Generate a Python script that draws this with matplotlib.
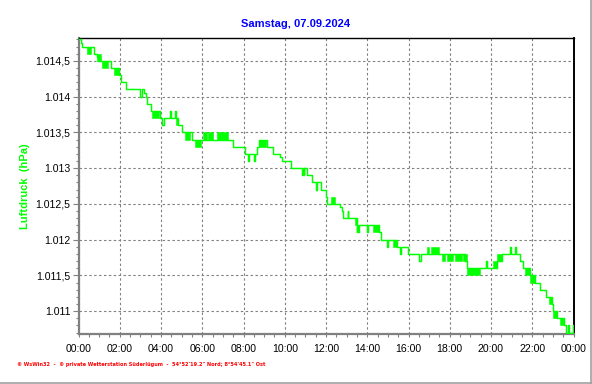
import matplotlib
matplotlib.use("Agg")
import matplotlib.pyplot as plt
import matplotlib.ticker as mticker
from matplotlib.lines import Line2D

# Luftdruck 07.09.2024, step series (hours, hPa)
hours = [0.00, 0.10, 0.18, 0.77, 0.90, 0.95, 1.58, 1.98, 2.06, 2.30,
         2.98, 3.06, 3.19, 3.27, 3.31, 3.52, 3.95, 4.05, 4.15, 4.44,
         4.48, 4.69, 4.72, 4.84, 5.00, 5.49, 7.51, 8.07, 8.23, 8.27,
         8.51, 8.55, 8.64, 8.77, 9.12, 9.45, 9.77, 9.85, 10.29, 10.86,
         10.89, 10.92, 10.95, 11.06, 11.31, 11.52, 11.56, 11.76, 12.00, 12.06,
         12.68, 12.76, 12.84, 13.05, 13.09, 13.49, 13.52, 13.57, 13.60, 14.00,
         14.04, 14.59, 14.65, 14.97, 15.01, 15.46, 15.60, 15.64, 15.99, 16.52,
         16.59, 18.74, 18.82, 19.76, 19.80, 20.28, 20.52, 20.92, 20.96, 21.18,
         21.22, 21.41, 21.54, 21.89, 22.13, 22.38, 22.67, 22.94, 22.99, 23.22,
         23.52, 23.64, 23.75, 23.79, 23.97, 24.00]
druck = [1014.8, 1014.75, 1014.7, 1014.6, 1014.55, 1014.5, 1014.4, 1014.3, 1014.2, 1014.1,
         1014.0, 1014.1, 1014.05, 1014.0, 1013.9, 1013.8, 1013.7, 1013.6, 1013.7, 1013.8,
         1013.7, 1013.8, 1013.7, 1013.6, 1013.5, 1013.4, 1013.3, 1013.2, 1013.1, 1013.2,
         1013.1, 1013.2, 1013.3, 1013.4, 1013.3, 1013.2, 1013.15, 1013.1, 1013.0, 1012.9,
         1013.0, 1012.9, 1013.0, 1012.9, 1012.8, 1012.7, 1012.8, 1012.7, 1012.6, 1012.5,
         1012.45, 1012.4, 1012.3, 1012.4, 1012.3, 1012.1, 1012.2, 1012.1, 1012.2, 1012.1,
         1012.2, 1012.1, 1012.0, 1011.9, 1012.0, 1011.9, 1011.8, 1011.9, 1011.8, 1011.7,
         1011.8, 1011.7, 1011.6, 1011.7, 1011.6, 1011.7, 1011.8, 1011.9, 1011.8, 1011.9,
         1011.8, 1011.7, 1011.6, 1011.5, 1011.4, 1011.3, 1011.2, 1011.1, 1011.0, 1010.9,
         1010.8, 1010.7, 1010.8, 1010.7, 1010.8, 1010.8]

# short periods where the reading jumps back and forth between two values
flicker_start = [0.42, 0.92, 1.14, 1.74, 3.56, 4.73, 5.16, 5.65, 6.05, 6.29,
                 6.70, 8.77, 12.23, 13.41, 14.29, 15.26, 16.90, 17.10, 17.61, 17.85,
                 18.25, 18.65, 18.82, 20.11, 20.28, 21.65, 21.89, 22.83, 22.99, 23.35]
flicker_end = [0.61, 1.09, 1.42, 1.98, 3.92, 4.84, 5.41, 5.92, 6.21, 6.53,
               7.26, 9.10, 12.44, 13.49, 14.59, 15.43, 17.00, 17.50, 17.77, 18.17,
               18.57, 18.82, 19.47, 20.28, 20.52, 21.89, 22.13, 22.94, 23.18, 23.52]
flicker_low = [1014.6, 1014.5, 1014.4, 1014.3, 1013.7, 1013.6, 1013.4, 1013.3, 1013.4, 1013.4,
               1013.4, 1013.3, 1012.5, 1012.2, 1012.1, 1011.9, 1011.8, 1011.8, 1011.7, 1011.7,
               1011.7, 1011.7, 1011.5, 1011.6, 1011.7, 1011.5, 1011.4, 1011.1, 1010.9, 1010.8]
flicker_high = [1014.7, 1014.6, 1014.5, 1014.4, 1013.8, 1013.7, 1013.5, 1013.4, 1013.5, 1013.5,
                1013.5, 1013.4, 1012.6, 1012.3, 1012.2, 1012.0, 1011.9, 1011.9, 1011.8, 1011.8,
                1011.8, 1011.8, 1011.6, 1011.7, 1011.8, 1011.6, 1011.5, 1011.2, 1011.0, 1010.9]

x_ticks = list(range(0, 25, 2))
x_labels = ["00:00", "02:00", "04:00", "06:00", "08:00", "10:00", "12:00",
            "14:00", "16:00", "18:00", "20:00", "22:00", "00:00"]
y_ticks = [1011.0, 1011.5, 1012.0, 1012.5, 1013.0, 1013.5, 1014.0, 1014.5]

title = "Samstag, 07.09.2024"
ylabel = "Luftdruck  (hPa)"
footer = "\u00a9 WsWin32  -  \u00a9 private Wetterstation S\u00fcderl\u00fcgum  -  54\u00b052'19.2\" Nord; 8\u00b054'45.1\" Ost"

plt.rcParams['font.family'] = ['Liberation Sans', 'DejaVu Sans']

green = '#00ff00'
grey = '#808080'


def german(v, pos):
    s = "{:.1f}".format(v)
    whole, frac = s.split(".")
    whole = whole[:-3] + "." + whole[-3:]
    if frac == "0":
        return whole
    return whole + "," + frac


fig = plt.figure(figsize=(5.92, 3.84), dpi=100)
ax = fig.add_axes([78.5 / 592, 1 - 334 / 384, 495 / 592, 296 / 384])

ax.plot(hours, druck, drawstyle='steps-post', color=green, lw=1.05, zorder=3)
widths = [e - s for s, e in zip(flicker_start, flicker_end)]
heights = [h - l for l, h in zip(flicker_low, flicker_high)]
ax.bar(flicker_start, heights, width=widths, bottom=flicker_low, align='edge',
       color=green, edgecolor=green, linewidth=0.4, zorder=3)

ax.set_xlim(0, 24)
ax.set_ylim(1010.68, 1014.82)
ax.set_xticks(x_ticks)
ax.set_xticklabels(x_labels)
ax.xaxis.set_minor_locator(mticker.MultipleLocator(0.5))
ax.set_yticks(y_ticks)
ax.yaxis.set_major_formatter(mticker.FuncFormatter(german))
ax.yaxis.set_minor_locator(mticker.MultipleLocator(0.1))

ax.grid(True, which='major', color=grey, linestyle=(0, (2.2, 2.2)), linewidth=0.8)
ax.set_axisbelow(True)

ax.tick_params(axis='both', which='both', direction='out', color=grey, width=0.8,
               labelsize=7.6, labelcolor='black')
ax.tick_params(axis='y', which='major', length=4.3, pad=1.5)
ax.tick_params(axis='y', which='minor', length=2.2)
ax.tick_params(axis='x', which='major', length=2.4, pad=5)
ax.tick_params(axis='x', which='minor', length=2.4)

ax.spines['left'].set_color(grey)
ax.spines['left'].set_linewidth(1.6)
ax.spines['bottom'].set_color(grey)
ax.spines['bottom'].set_linewidth(1.6)
ax.spines['top'].set_color('black')
ax.spines['top'].set_linewidth(1.0)
ax.spines['right'].set_color('black')
ax.spines['right'].set_linewidth(1.4)

fig.text(0.5, 1 - 24 / 384, title, ha='center', va='center', color='#0000ff',
         fontsize=8, fontweight='bold')
fig.text(25.5 / 592, 1 - 186 / 384, ylabel, ha='center', va='center', rotation=90,
         color=green, fontsize=8, fontweight='bold')
fig.text(17 / 592, 1 - 364.5 / 384, footer, ha='left', va='center', color='#ff0000',
         fontsize=3.6, fontweight='bold', family='DejaVu Sans')

# panel border at right and bottom edge
fig.add_artist(Line2D([0, 1], [0.6 / 384, 0.6 / 384], color='#a0a0a0', lw=1.2))
fig.add_artist(Line2D([591 / 592, 591 / 592], [0, 1], color='#a0a0a0', lw=1.2))

fig.savefig("out.png", dpi=100)
